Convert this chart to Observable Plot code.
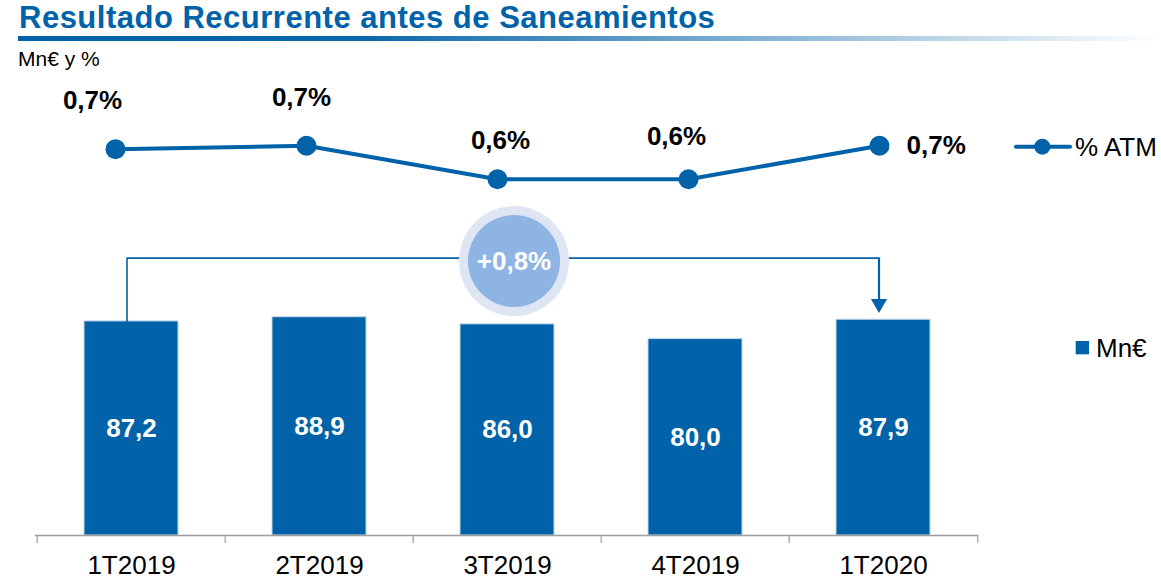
<!DOCTYPE html>
<html>
<head>
<meta charset="utf-8">
<script src="https://cdn.jsdelivr.net/npm/d3@7"></script>
<script src="https://cdn.jsdelivr.net/npm/@observablehq/plot@0.6"></script>
<style>
  html, body { margin: 0; padding: 0; background: #ffffff; }
  #chart { position: relative; width: 1161px; height: 580px; overflow: hidden; }
  #chart svg { position: absolute; left: 0; top: 0; }
</style>
</head>
<body>
<div id="chart"></div>
<script>
// ---------- data ----------
const categories = ["1T2019", "2T2019", "3T2019", "4T2019", "1T2020"];
const resultValues = [87.2, 88.9, 86.0, 80.0, 87.9];      // Mn€
const atmValues = [0.69, 0.70, 0.60, 0.60, 0.70];          // % ATM
const titleText = "Resultado Recurrente antes de Saneamientos";
const subtitleText = "Mn€ y %";
const legendLine = "% ATM";
const legendBar = "Mn€";

// ---------- style / layout ----------
const W = 1161, H = 580;
const FONT = "'Liberation Sans', Arial, Helvetica, sans-serif";
const BLUE = "#0062A8";
const BRACKET_LEVEL = 113;
const fmt = v => v.toFixed(1).replace(".", ",");
const fmtPct = v => fmt(v) + "%";

const barData = categories.map((q, i) => ({q, v: resultValues[i]}));
const atmData = categories.map((q, i) => ({q, v: atmValues[i]}));
const first = barData[0], last = barData[barData.length - 1];
const growth = (last.v / first.v - 1) * 100;
const growthLabel = (growth >= 0 ? "+" : "") + fmtPct(growth);

const mL = 35, mR = 183;
const step = (W - mL - mR) / categories.length;

const plotStyle = {fontFamily: FONT, background: "none", overflow: "visible", color: "#000"};

const bracketPath = [
  {q: first.q, y: first.v},
  {q: first.q, y: BRACKET_LEVEL},
  {q: last.q, y: BRACKET_LEVEL}
];

const plotA = Plot.plot({
  width: W, height: H,
  marginLeft: mL, marginRight: mR, marginTop: 289.5, marginBottom: 45,
  style: plotStyle,
  x: {type: "band", domain: categories, paddingInner: 0.5, paddingOuter: 0.25, label: null},
  y: {domain: [0, 100], axis: null},
  marks: [
    Plot.barY(barData, {x: "q", y: "v", fill: BLUE, stroke: "#c3d5ea", strokeWidth: 1}),
    Plot.text(barData, {x: "q", y: d => d.v / 2, text: d => fmt(d.v), fill: "white",
      fontWeight: "bold", fontSize: 26}),
    Plot.ruleY([0], {stroke: "#9d9d9d", strokeWidth: 1.5}),
    Plot.ruleX(categories, {x: d => d, y1: 0, y2: 0, insetBottom: -8, dx: -step / 2,
      stroke: "#9d9d9d", strokeWidth: 1.2}),
    Plot.ruleX([categories[categories.length - 1]], {x: d => d, y1: 0, y2: 0, insetBottom: -8,
      dx: step / 2, stroke: "#9d9d9d", strokeWidth: 1.2}),
    Plot.axisX({tickSize: 0, tickPadding: 20, fontSize: 26, label: null, fill: "#000"}),
    Plot.line(bracketPath, {x: "q", y: "y", stroke: BLUE, strokeWidth: 1.6, dx: -4.5,
      curve: "linear"}),
    Plot.ruleX([last], {x: "q", y1: BRACKET_LEVEL, y2: "v", insetBottom: 14, stroke: BLUE,
      strokeWidth: 2.2, dx: -4.5}),
    Plot.dot([last], {x: "q", y: "v", symbol: "triangle", rotate: 180, r: 6, fill: BLUE,
      stroke: "none", dx: -4.5, dy: -16}),
    Plot.dot([barData[2]], {x: "q", y: () => BRACKET_LEVEL, r: 55, fill: "#DDE6F2",
      stroke: "none", dx: 6.5, dy: 3}),
    Plot.dot([barData[2]], {x: "q", y: () => BRACKET_LEVEL, r: 46, fill: "#8EB4E3",
      stroke: "none", dx: 6.5, dy: 3}),
    Plot.text([growthLabel], {x: () => barData[2].q, y: () => BRACKET_LEVEL, text: d => d,
      fill: "white", fontWeight: "bold", fontSize: 26, dx: 6.5, dy: 4})
  ]
});

// per-label offsets (layout only)
const atmLabelLayout = [
  {dx: -23, dy: -48, anchor: "middle"},
  {dx: -5, dy: -48, anchor: "middle"},
  {dx: 3, dy: -39, anchor: "middle"},
  {dx: -12, dy: -43, anchor: "middle"},
  {dx: 27, dy: 0, anchor: "start"}
];

const plotB = Plot.plot({
  width: W, height: H,
  marginLeft: 113.3, marginRight: W - 880, marginTop: 145.3, marginBottom: H - 178.7,
  style: plotStyle,
  x: {type: "point", domain: categories, padding: 0, axis: null},
  y: {domain: [0.6, 0.7], axis: null},
  marks: [
    Plot.line(atmData, {x: "q", y: "v", stroke: BLUE, strokeWidth: 4}),
    Plot.dot(atmData, {x: "q", y: "v", r: 10, fill: BLUE, stroke: "none"}),
    ...atmData.map((d, i) => Plot.text([d], {
      x: "q", y: "v", text: e => fmtPct(e.v), fontWeight: "bold", fontSize: 26, fill: "#000",
      dx: atmLabelLayout[i].dx, dy: atmLabelLayout[i].dy, textAnchor: atmLabelLayout[i].anchor
    }))
  ]
});

// ---------- header + legend overlay ----------
const NS = "http://www.w3.org/2000/svg";
const over = d3.create("svg").attr("xmlns", NS).attr("width", W).attr("height", H)
  .attr("viewBox", `0 0 ${W} ${H}`).style("overflow", "visible")
  .style("font-family", FONT);

const grad = over.append("defs").append("linearGradient").attr("id", "tg")
  .attr("x1", "0%").attr("x2", "100%").attr("y1", "0").attr("y2", "0");
grad.append("stop").attr("offset", "0%").attr("stop-color", BLUE);
grad.append("stop").attr("offset", "30%").attr("stop-color", "#0a67ab");
grad.append("stop").attr("offset", "100%").attr("stop-color", "#ffffff");

over.append("text").attr("x", 19).attr("y", 28.3).attr("font-size", 31)
  .attr("font-weight", "bold").attr("fill", BLUE).attr("letter-spacing", 0.5).text(titleText);
over.append("rect").attr("x", 18).attr("y", 36).attr("width", W - 18).attr("height", 5)
  .attr("fill", "url(#tg)");
over.append("text").attr("x", 18).attr("y", 66).attr("font-size", 21)
  .attr("fill", "#000").text(subtitleText);

// legend: line series
over.append("line").attr("x1", 1016).attr("x2", 1070).attr("y1", 146.7).attr("y2", 146.7)
  .attr("stroke", BLUE).attr("stroke-width", 4).attr("stroke-linecap", "round");
over.append("circle").attr("cx", 1042.3).attr("cy", 146.7).attr("r", 8).attr("fill", BLUE);
over.append("text").attr("x", 1075).attr("y", 155.7).attr("font-size", 26).attr("fill", "#000")
  .text(legendLine);
// legend: bars
over.append("rect").attr("x", 1075.7).attr("y", 341).attr("width", 13.3).attr("height", 13.3)
  .attr("fill", BLUE);
over.append("text").attr("x", 1096).attr("y", 356.7).attr("font-size", 26).attr("fill", "#000")
  .text(legendBar);

const chart = document.getElementById("chart");
chart.appendChild(plotA);
chart.appendChild(plotB);
chart.appendChild(over.node());
</script>
</body>
</html>
